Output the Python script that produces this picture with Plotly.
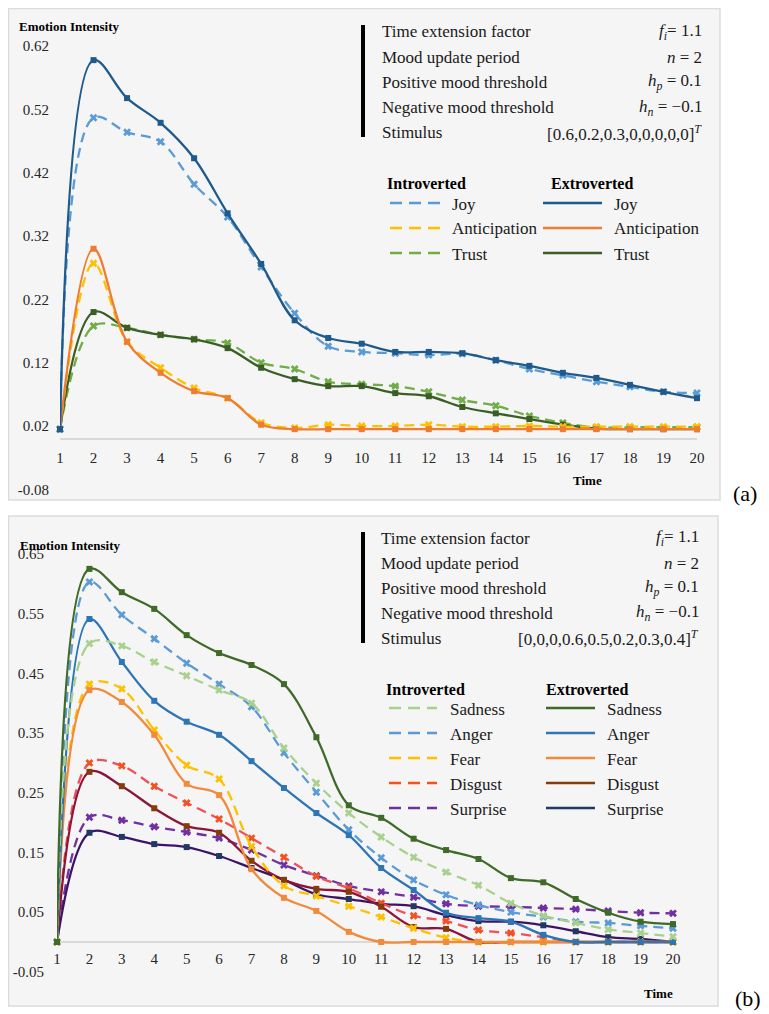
import plotly.graph_objects as go

# the page body has an 8px margin: the figure is sized so it fills the 769x1014 window
OFF = 8
W, H = 769 - OFF, 1014 - OFF
time = list(range(1, 21))

# ---------------- Panel (a) data ----------------
joy_intro = [0.015, 0.507, 0.484, 0.469, 0.402, 0.350, 0.271, 0.198, 0.146, 0.137,
             0.135, 0.132, 0.134, 0.124, 0.110, 0.100, 0.090, 0.082, 0.074, 0.072]
joy_extro = [0.015, 0.598, 0.538, 0.499, 0.443, 0.356, 0.276, 0.187, 0.159, 0.150,
             0.137, 0.137, 0.135, 0.124, 0.115, 0.104, 0.096, 0.085, 0.074, 0.064]
ant_intro = [0.015, 0.277, 0.153, 0.112, 0.080, 0.064, 0.025, 0.017, 0.022, 0.020,
             0.020, 0.022, 0.019, 0.019, 0.020, 0.019, 0.019, 0.019, 0.019, 0.019]
ant_extro = [0.015, 0.300, 0.153, 0.104, 0.075, 0.064, 0.022, 0.015, 0.015, 0.015,
             0.015, 0.015, 0.015, 0.015, 0.015, 0.015, 0.015, 0.015, 0.015, 0.015]
trust_intro = [0.015, 0.178, 0.175, 0.164, 0.157, 0.151, 0.120, 0.110, 0.090, 0.086,
               0.083, 0.074, 0.061, 0.052, 0.036, 0.025, 0.018, 0.018, 0.018, 0.018]
trust_extro = [0.015, 0.200, 0.175, 0.164, 0.157, 0.143, 0.112, 0.094, 0.083, 0.083,
               0.072, 0.067, 0.050, 0.040, 0.031, 0.022, 0.016, 0.015, 0.015, 0.015]

# ---------------- Panel (b) data ----------------
sad_intro = [0.0, 0.500, 0.496, 0.469, 0.446, 0.422, 0.400, 0.325, 0.266, 0.216,
             0.176, 0.142, 0.117, 0.095, 0.065, 0.044, 0.032, 0.021, 0.015, 0.009]
sad_extro = [0.0, 0.625, 0.586, 0.558, 0.514, 0.484, 0.464, 0.432, 0.343, 0.229,
             0.208, 0.173, 0.154, 0.139, 0.107, 0.100, 0.072, 0.049, 0.034, 0.030]
ang_intro = [0.0, 0.603, 0.548, 0.508, 0.467, 0.432, 0.394, 0.317, 0.251, 0.188,
             0.141, 0.104, 0.079, 0.062, 0.050, 0.042, 0.034, 0.032, 0.027, 0.023]
ang_extro = [0.0, 0.541, 0.469, 0.404, 0.369, 0.347, 0.303, 0.258, 0.216, 0.179,
             0.124, 0.087, 0.049, 0.040, 0.034, 0.012, 0.0, 0.0, 0.0, 0.0]
fear_intro = [0.0, 0.432, 0.424, 0.355, 0.296, 0.273, 0.160, 0.094, 0.077, 0.060,
              0.042, 0.023, 0.007, 0.0, 0.0, 0.0, 0.0, 0.0, 0.0, 0.0]
fear_extro = [0.0, 0.422, 0.402, 0.347, 0.265, 0.246, 0.122, 0.074, 0.052, 0.017,
              0.0, 0.0, 0.0, 0.0, 0.0, 0.0, 0.0, 0.0, 0.0, 0.0]
dis_intro = [0.0, 0.300, 0.295, 0.261, 0.233, 0.206, 0.174, 0.142, 0.110, 0.090,
             0.065, 0.044, 0.035, 0.020, 0.015, 0.008, 0.0, 0.0, 0.0, 0.0]
dis_extro = [0.0, 0.285, 0.261, 0.224, 0.194, 0.183, 0.136, 0.104, 0.089, 0.084,
             0.059, 0.025, 0.022, 0.0, 0.0, 0.0, 0.0, 0.0, 0.0, 0.0]
sur_intro = [0.0, 0.209, 0.204, 0.193, 0.184, 0.174, 0.154, 0.129, 0.111, 0.094,
             0.084, 0.075, 0.064, 0.060, 0.059, 0.057, 0.055, 0.052, 0.049, 0.048]
sur_extro = [0.0, 0.183, 0.176, 0.164, 0.159, 0.144, 0.124, 0.104, 0.080, 0.072,
             0.064, 0.060, 0.045, 0.035, 0.034, 0.028, 0.018, 0.008, 0.005, 0.0]

yticks_a = [-0.08, 0.02, 0.12, 0.22, 0.32, 0.42, 0.52, 0.62]
yticks_b = [-0.05, 0.05, 0.15, 0.25, 0.35, 0.45, 0.55, 0.65]

param_names = ["Time extension factor", "Mood update period", "Positive mood threshold",
               "Negative mood threshold", "Stimulus"]
param_vals_a = ["<i>f<sub>i</sub></i>= 1.1", "<i>n</i> = 2", "<i>h<sub>p</sub></i> = 0.1",
                "<i>h<sub>n</sub></i> = −0.1", "[0.6,0.2,0.3,0,0,0,0,0]<sup><i>T</i></sup>"]
param_vals_b = ["<i>f<sub>i</sub></i>= 1.1", "<i>n</i> = 2", "<i>h<sub>p</sub></i> = 0.1",
                "<i>h<sub>n</sub></i> = −0.1", "[0,0,0,0.6,0.5,0.2,0.3,0.4]<sup><i>T</i></sup>"]

names_a = ["Joy", "Anticipation", "Trust"]
names_b = ["Sadness", "Anger", "Fear", "Disgust", "Surprise"]

SERIF = "Liberation Serif"

def px(x):
    return (x - OFF) / W

def py(y):
    return 1 - (y - OFF) / H

fig = go.Figure()

a_rng = [-0.08, 0.64]
a_ypx = lambda v: 426 - (v - 0.02) * 633
b_rng = [-0.05, 0.66]
b_ypx = lambda v: 942 - v * 597

a_dom = [py(a_ypx(a_rng[0])), py(a_ypx(a_rng[1]))]
b_dom = [py(b_ypx(b_rng[0])), py(b_ypx(b_rng[1]))]

def add_series(y, xa, ya, color, mcolor, intro):
    fig.add_trace(go.Scatter(
        x=time, y=y, xaxis=xa, yaxis=ya, mode="lines+markers",
        line=dict(color=color, width=2.3, shape="spline", smoothing=1.0,
                  dash="10px,6px" if intro else "solid"),
        marker=dict(symbol="x" if intro else "square", size=7 if intro else 6,
                    color=mcolor, line=dict(width=0)),
        cliponaxis=False, showlegend=False, hoverinfo="skip"))

a_intro_cols = ["#5b9bd5", "#ffc000", "#70ad47"]
a_extro_cols = ["#1f5a8c", "#ed7d31", "#3a5e26"]
a_intro_data = [joy_intro, ant_intro, trust_intro]
a_extro_data = [joy_extro, ant_extro, trust_extro]
for order in [2, 1, 0]:
    add_series(a_intro_data[order], "x", "y", a_intro_cols[order], a_intro_cols[order], True)
    add_series(a_extro_data[order], "x", "y", a_extro_cols[order], a_extro_cols[order], False)

b_intro_cols = ["#a9d18e", "#5b9bd5", "#ffc000", "#f0505a", "#7030a0"]
b_intro_mcols = ["#a9d18e", "#5b9bd5", "#ffc000", "#f4511e", "#7030a0"]
b_extro_cols = ["#3f6a28", "#2e75b6", "#f28a3c", "#8a1538", "#3b1466"]
b_extro_mcols = ["#3f6a28", "#2e75b6", "#f28a3c", "#843c0c", "#203864"]
b_intro_data = [sad_intro, ang_intro, fear_intro, dis_intro, sur_intro]
b_extro_data = [sad_extro, ang_extro, fear_extro, dis_extro, sur_extro]
for order in [4, 3, 2, 1, 0]:
    add_series(b_intro_data[order], "x2", "y2", b_intro_cols[order], b_intro_mcols[order], True)
    add_series(b_extro_data[order], "x2", "y2", b_extro_cols[order], b_extro_mcols[order], False)

tickfont = dict(family=SERIF, size=15, color="#262626")

def xaxis_cfg(dom, standoff, yname):
    return dict(domain=dom, range=[1, 20], anchor=yname, showline=False,
                showgrid=False, zeroline=False, tickmode="array", tickvals=time,
                ticks="", tickfont=tickfont, ticklabelposition="inside",
                ticklabeloverflow="allow", ticklabelstandoff=standoff, automargin=False)

def yaxis_cfg(dom, rng, ticks, xname, standoff):
    return dict(domain=dom, range=rng, anchor=xname, showgrid=False, zeroline=True,
                zerolinecolor="#d9d9d9", zerolinewidth=1.5,
                showline=False, tickmode="array", tickvals=ticks,
                ticktext=[f"{v:.2f}" for v in ticks], ticks="",
                tickfont=tickfont, ticklabelstandoff=standoff, automargin=False)

fig.update_layout(
    width=W, height=H, margin=dict(l=0, r=0, t=0, b=0, autoexpand=False),
    paper_bgcolor="white", plot_bgcolor="rgba(0,0,0,0)",
    font=dict(family=SERIF),
    xaxis=xaxis_cfg([px(60), px(697)], 20, "y"),
    yaxis=yaxis_cfg(a_dom, a_rng, yticks_a, "x", 10),
    xaxis2=xaxis_cfg([px(57), px(673)], 2, "y2"),
    yaxis2=yaxis_cfg(b_dom, b_rng, yticks_b, "x2", 12),
)

shapes = []
shapes.append(dict(type="rect", xref="paper", yref="paper", x0=px(8.5), x1=px(720),
                   y0=py(500), y1=py(8.5), fillcolor="#f5f5f5",
                   line=dict(color="#dcdcdc", width=1.5), layer="below"))
shapes.append(dict(type="rect", xref="paper", yref="paper", x0=px(8.5), x1=px(718),
                   y0=py(1006), y1=py(516), fillcolor="#f5f5f5",
                   line=dict(color="#dcdcdc", width=1.5), layer="below"))
shapes.append(dict(type="line", xref="paper", yref="paper", x0=px(363), x1=px(363),
                   y0=py(137), y1=py(25), line=dict(color="black", width=4)))
shapes.append(dict(type="line", xref="paper", yref="paper", x0=px(363), x1=px(363),
                   y0=py(643), y1=py(532), line=dict(color="black", width=4)))

ann = []
def text(x, y, s, size=15, anchor="left", bold=False, color="#1a1a1a"):
    if bold:
        s = "<b>" + s + "</b>"
    ann.append(dict(x=px(x), y=py(y), xref="paper", yref="paper", text=s, showarrow=False,
                    xanchor=anchor, yanchor="middle", borderpad=0,
                    font=dict(family=SERIF, size=size, color=color)))

text(18, 27, "Emotion Intensity", size=13, bold=True, color="black")
text(19, 545, "Emotion Intensity", size=13, bold=True, color="black")
text(587, 480, "Time", size=13, anchor="center", bold=True, color="black")
text(658, 993, "Time", size=13, anchor="center", bold=True, color="black")
text(745, 493, "(a)", size=22, anchor="center", color="black")
text(748, 998, "(b)", size=22, anchor="center", color="black")

for i, (n, v) in enumerate(zip(param_names, param_vals_a)):
    yy = 32 + i * 25.2
    text(381, yy, n, size=17)
    text(703, yy, v, size=17, anchor="right")
for i, (n, v) in enumerate(zip(param_names, param_vals_b)):
    yy = 538 + i * 25
    text(380, yy, n, size=17)
    text(700, yy, v, size=17, anchor="right")

LEG_DASH = "12px,7px"
text(386, 183, "Introverted", size=16, bold=True, color="black")
text(550, 183, "Extroverted", size=16, bold=True, color="black")
for i, n in enumerate(names_a):
    yy = 203 + i * 25
    shapes.append(dict(type="line", xref="paper", yref="paper", x0=px(390), x1=px(440),
                       y0=py(yy), y1=py(yy),
                       line=dict(color=a_intro_cols[i], width=2.5, dash=LEG_DASH)))
    text(451, yy + 1, n, size=17)
    shapes.append(dict(type="line", xref="paper", yref="paper", x0=px(543), x1=px(602),
                       y0=py(yy), y1=py(yy), line=dict(color=a_extro_cols[i], width=2.5)))
    text(613, yy + 1, n, size=17)

text(385, 689, "Introverted", size=16, bold=True, color="black")
text(545, 689, "Extroverted", size=16, bold=True, color="black")
for i, n in enumerate(names_b):
    yy = 708 + i * 25
    shapes.append(dict(type="line", xref="paper", yref="paper", x0=px(389), x1=px(437),
                       y0=py(yy), y1=py(yy),
                       line=dict(color=b_intro_mcols[i], width=2.5, dash=LEG_DASH)))
    text(449, yy + 1, n, size=17)
    shapes.append(dict(type="line", xref="paper", yref="paper", x0=px(546), x1=px(595),
                       y0=py(yy), y1=py(yy), line=dict(color=b_extro_mcols[i], width=2.5)))
    text(606, yy + 1, n, size=17)

fig.update_layout(shapes=shapes, annotations=ann)
fig.write_html("out.html")
